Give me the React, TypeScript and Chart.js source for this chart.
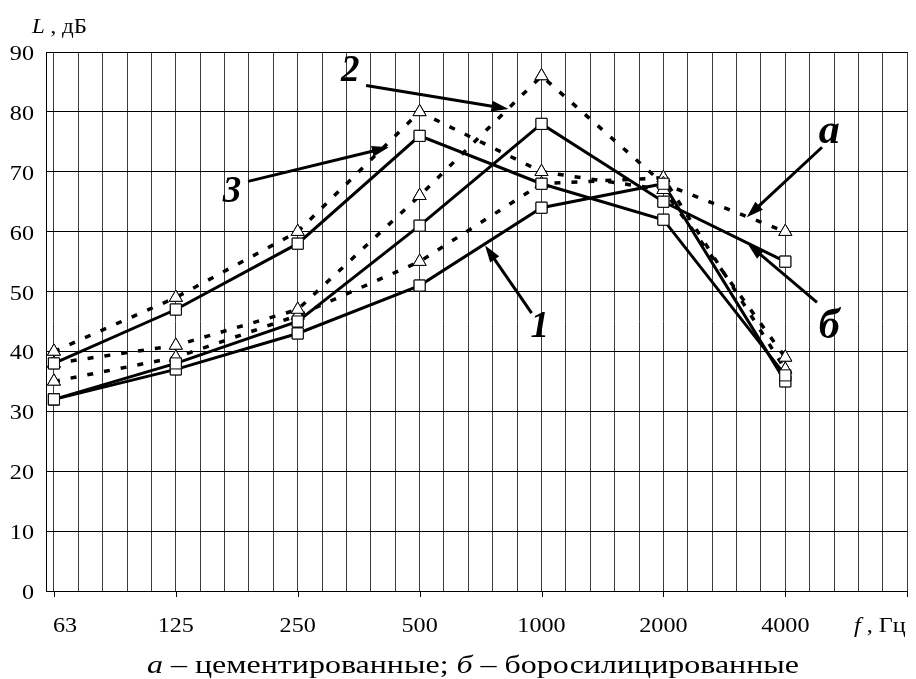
import React, { useEffect, useRef } from 'react';
import { Chart, registerables } from 'chart.js';
Chart.register(...registerables);

const categories = ['63', '125', '250', '500', '1000', '2000', '4000'];
const yTickValues = [0, 10, 20, 30, 40, 50, 60, 70, 80, 90];

// dashed lines with triangles (a – cemented)
const dashed1 = [35, 39, 46, 55, 68, 69, 37];
const dashed2 = [38, 41, 47, 66, 86, 68, 60];
const dashed3 = [40, 49, 60, 80, 70, 67, 39];
// solid lines with squares (б – borosiliconized)
const solid1 = [32, 37, 43, 51, 64, 68, 35];
const solid2 = [32, 38, 45, 61, 78, 65, 55];
const solid3 = [38, 47, 58, 76, 68, 62, 36];

// annotation labels (data coordinates: x = category index, y = dB)
const labelTexts = ['1', '2', '3', 'а', 'б'];
const labelX = [3.985, 2.43, 1.46, 6.36, 6.36];
const labelY = [42.4, 85.1, 64.9, 74.8, 42.2];
const arrowFromX = [3.919, 2.561, 1.593, 6.301, 6.26];
const arrowFromY = [46.4, 84.4, 68.4, 74.1, 48.2];
const arrowToX = [3.537, 3.729, 2.748, 5.683, 5.691];
const arrowToY = [57.7, 80.5, 74.1, 62.4, 58.0];

const captionRuns = [
  { text: 'а', italic: true },
  { text: ' – цементированные; ', italic: false },
  { text: 'б', italic: true },
  { text: ' – боросилицированные', italic: false },
];
const yTitleRuns = [
  { text: 'L', italic: true },
  { text: ' , дБ', italic: false },
];
const xTitleRuns = [
  { text: 'f', italic: true },
  { text: ' , Гц', italic: false },
];

const SERIF = '"Liberation Serif", "Times New Roman", serif';
const SX = 1.15;

function drawRuns(ctx: CanvasRenderingContext2D, runs: { text: string; italic: boolean }[], x: number, y: number, size: number, align: 'left' | 'center', sx: number, targetWidth?: number) {
  ctx.save();
  ctx.textBaseline = 'alphabetic';
  ctx.textAlign = 'left';
  let total = 0;
  const widths = runs.map((r) => {
    ctx.font = `${r.italic ? 'italic ' : ''}${size}px ${SERIF}`;
    const w = ctx.measureText(r.text).width;
    total += w;
    return w;
  });
  let s = sx;
  if (targetWidth) s = targetWidth / total;
  const left = align === 'left' ? x : x - (total * s) / 2;
  ctx.translate(left, y);
  ctx.scale(s, 1);
  let cx = 0;
  runs.forEach((r, i) => {
    ctx.font = `${r.italic ? 'italic ' : ''}${size}px ${SERIF}`;
    ctx.fillStyle = '#000';
    ctx.fillText(r.text, cx, 0);
    cx += widths[i];
  });
  ctx.restore();
}

function drawText(ctx: CanvasRenderingContext2D, text: string, x: number, y: number, font: string, align: 'left' | 'center' | 'right', sx: number) {
  ctx.save();
  ctx.font = font;
  ctx.textBaseline = 'alphabetic';
  ctx.textAlign = 'left';
  const w = ctx.measureText(text).width * sx;
  const left = align === 'left' ? x : align === 'right' ? x - w : x - w / 2;
  ctx.translate(left, y);
  ctx.scale(sx, 1);
  ctx.fillStyle = '#000';
  ctx.fillText(text, 0, 0);
  ctx.restore();
}

function drawArrow(ctx: CanvasRenderingContext2D, x1: number, y1: number, x2: number, y2: number) {
  const ang = Math.atan2(y2 - y1, x2 - x1);
  const len = 17;
  const hw = 5.5;
  const bx = x2 - Math.cos(ang) * len;
  const by = y2 - Math.sin(ang) * len;
  ctx.save();
  ctx.strokeStyle = '#000';
  ctx.fillStyle = '#000';
  ctx.lineWidth = 3;
  ctx.beginPath();
  ctx.moveTo(x1, y1);
  ctx.lineTo(bx + Math.cos(ang) * 2, by + Math.sin(ang) * 2);
  ctx.stroke();
  ctx.beginPath();
  ctx.moveTo(x2, y2);
  ctx.lineTo(bx + Math.sin(ang) * hw, by - Math.cos(ang) * hw);
  ctx.lineTo(bx - Math.sin(ang) * hw, by + Math.cos(ang) * hw);
  ctx.closePath();
  ctx.fill();
  ctx.restore();
}

const overlayPlugin = {
  id: 'overlay',
  afterDatasetsDraw(chart: any) {
    const ctx: CanvasRenderingContext2D = chart.ctx;
    // redraw markers on top of all lines
    chart.data.datasets.forEach((_: any, i: number) => {
      const meta = chart.getDatasetMeta(i);
      meta.data.forEach((el: any) => el.draw(ctx, chart.chartArea));
    });
    const xs = chart.scales.x;
    const ys = chart.scales.y;
    // arrows and labels
    labelTexts.forEach((t, i) => {
      drawArrow(ctx, xs.getPixelForValue(arrowFromX[i]), ys.getPixelForValue(arrowFromY[i]), xs.getPixelForValue(arrowToX[i]), ys.getPixelForValue(arrowToY[i]));
      const isDigit = /[0-9]/.test(t);
      drawText(ctx, t, xs.getPixelForValue(labelX[i]), ys.getPixelForValue(labelY[i]), `italic bold ${isDigit ? 37 : 42}px ${SERIF}`, 'center', 1);
    });
  },
  afterDraw(chart: any) {
    const ctx: CanvasRenderingContext2D = chart.ctx;
    const xs = chart.scales.x;
    const ys = chart.scales.y;
    const area = chart.chartArea;
    // x tick marks and labels
    ctx.save();
    ctx.strokeStyle = '#000';
    ctx.lineWidth = 1;
    for (let i = 0; i <= categories.length; i++) {
      const px = Math.round(xs.getPixelForValue(i)) + 0.5;
      ctx.beginPath();
      ctx.moveTo(px, area.bottom);
      ctx.lineTo(px, area.bottom + 6);
      ctx.stroke();
    }
    ctx.restore();
    categories.forEach((c, i) => {
      const px = xs.getPixelForValue(i);
      if (i === 0) drawText(ctx, c, px - 1, area.bottom + 41, `21px ${SERIF}`, 'left', SX);
      else drawText(ctx, c, px, area.bottom + 41, `21px ${SERIF}`, 'center', SX);
    });
    // y labels
    yTickValues.forEach((v) => {
      drawText(ctx, String(v), area.left - 12, ys.getPixelForValue(v) + 8, `21px ${SERIF}`, 'right', SX);
    });
    // axis titles
    drawRuns(ctx, yTitleRuns, 32, 33, 20, 'left', SX);
    drawRuns(ctx, xTitleRuns, 854, area.bottom + 41, 21, 'left', SX);
    // caption
    drawRuns(ctx, captionRuns, 473, 673, 26, 'center', 1, 652);
  },
};

export default function App() {
  const ref = useRef<HTMLCanvasElement>(null);
  useEffect(() => {
    document.body.style.margin = '0';
    const canvas = ref.current!;
    const mk = (vals: number[], dashed: boolean) => ({
      data: vals.map((v, i) => ({ x: i, y: v })),
      borderColor: '#000',
      borderWidth: dashed ? 3.5 : 3,
      borderDash: dashed ? [6, 11] : [],
      pointStyle: dashed ? 'triangle' : 'rect',
      pointRadius: dashed ? 7.5 : 7.8,
      pointBackgroundColor: '#fff',
      pointBorderColor: '#000',
      pointBorderWidth: 1,
      fill: false,
      tension: 0,
    });
    const chart = new Chart(canvas, {
      type: 'line',
      data: {
        datasets: [
          mk(dashed1, true),
          mk(dashed2, true),
          mk(dashed3, true),
          mk(solid1, false),
          mk(solid2, false),
          mk(solid3, false),
        ] as any,
      },
      options: {
        responsive: false,
        animation: false,
        devicePixelRatio: 1,
        layout: { padding: { top: 52, right: 1, left: 0, bottom: 0 } },
        plugins: { legend: { display: false }, tooltip: { enabled: false }, title: { display: false } },
        scales: {
          x: {
            type: 'linear',
            min: -0.065,
            max: 7,
            afterBuildTicks: (scale: any) => {
              const t = [];
              for (let k = 0; k <= 35; k++) t.push({ value: k / 5 });
              scale.ticks = t;
            },
            afterFit: (scale: any) => { scale.height = 88; },
            ticks: { display: false },
            grid: { color: '#3c3c3c', lineWidth: 1, drawTicks: false },
            border: { display: true, color: '#000', width: 1 },
          },
          y: {
            type: 'linear',
            min: 0,
            max: 90,
            ticks: { stepSize: 10, display: false },
            afterFit: (scale: any) => { scale.width = 46; },
            grid: { color: '#000', lineWidth: 1, drawTicks: false },
            border: { display: true, color: '#000', width: 1 },
          },
        },
      } as any,
      plugins: [overlayPlugin],
    });
    return () => chart.destroy();
  }, []);
  return (
    <div style={{ position: 'absolute', left: 0, top: 0, width: 916, height: 679, background: '#fff' }}>
      <canvas ref={ref} width={916} height={679} style={{ width: 916, height: 679, display: 'block' }} />
    </div>
  );
}
